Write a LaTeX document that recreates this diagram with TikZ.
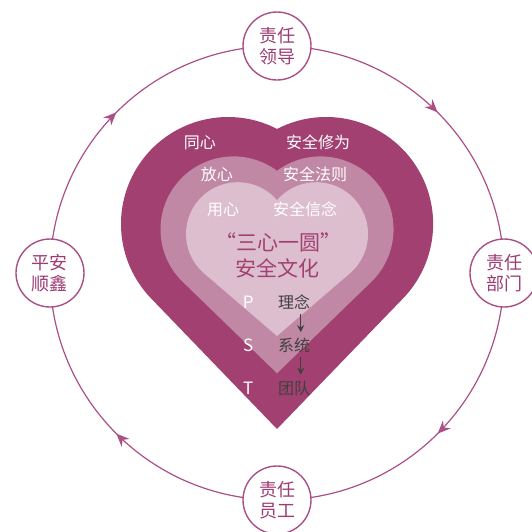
\documentclass[tikz,border=0pt]{standalone}
\usepackage{fontspec}
\setmainfont{Noto Sans CJK SC}
\usepackage{xcolor}
\usetikzlibrary{arrows.meta,decorations.markings}

\definecolor{heartdark}{RGB}{161,64,113}
\definecolor{heartmid}{RGB}{192,136,164}
\definecolor{heartlight}{RGB}{221,190,206}
\definecolor{ringcol}{RGB}{170,80,135}
\definecolor{ringtext}{RGB}{155,60,115}
\definecolor{graytext}{RGB}{64,64,64}

\pgfdeclarelayer{bg}
\pgfsetlayers{bg,main}

\tikzset{
  ring/.style={circle, draw=ringcol, line width=1.4pt, fill=white,
    minimum size=68pt, inner sep=0pt, align=center, text=ringtext,
    font=\fontsize{18}{21.5}\selectfont},
  flow/.style={draw=ringcol, color=ringcol, line width=1.2pt, postaction={decorate},
    decoration={markings, mark=at position 0.5 with {\arrow{Stealth[length=13pt,width=11pt]}}}},
  inlabel/.style={text=white, font=\fontsize{16}{19}\selectfont},
  culture/.style={text=heartdark, font=\fontsize{21}{25}\selectfont},
  pst/.style={text=white, font=\fontsize{17}{20}\selectfont},
  stage/.style={text=graytext, inner sep=1pt, font=\fontsize{16}{19}\selectfont},
  down/.style={-{Stealth[length=7pt,width=7pt]}, draw=graytext, line width=1pt,
    shorten <=3pt, shorten >=5pt}
}

\begin{document}
\begin{tikzpicture}[x=1pt,y=1pt]
            \useasboundingbox (-277,-258) rectangle (255,273);

            \fill[heartdark] (0,-156) -- ([shift={(-49,49)}]223.9:107)
              arc[start angle=223.9, end angle=62.7, radius=107]
              arc[start angle=117.3, end angle=-43.9, radius=107] -- cycle;
            \fill[heartmid] (0,-100.3) -- ([shift={(-43.5,43.6)}]225.9:73)
              arc[start angle=225.9, end angle=53.4, radius=73]
              arc[start angle=126.6, end angle=-45.9, radius=73] -- cycle;
            \fill[heartlight] (0,-63) -- ([shift={(-39.2,39)}]229.4:51.8)
              arc[start angle=229.4, end angle=40.8, radius=51.8]
              arc[start angle=139.2, end angle=-49.4, radius=51.8] -- cycle;

            \node[ring] (lead) at (0,227) {责任\\领导};
            \node[ring] (dept) at (227,0) {责任\\部门};
            \node[ring] (staff) at (0,-227) {责任\\员工};
            \node[ring] (safe) at (-227,0) {平安\\顺鑫};

            \begin{pgfonlayer}{bg}
              \draw[flow] (lead.center) to[out=0,in=90] (dept.center);
              \draw[flow] (dept.center) to[out=-90,in=0] (staff.center);
              \draw[flow] (staff.center) to[out=180,in=-90] (safe.center);
              \draw[flow] (safe.center) to[out=90,in=180] (lead.center);
            \end{pgfonlayer}

            \node[inlabel] (tongxin) at (-77,130.5) {同心};
            \node[inlabel] (xiuwei) at (41,130.5) {安全修为};
            \node[inlabel] (fangxin) at (-60,99) {放心};
            \node[inlabel] (fazhe) at (38,99) {安全法则};
            \node[inlabel] (yongxin) at (-54,63.5) {用心};
            \node[inlabel] (xinnian) at (28,63.5) {安全信念};

            \node[culture] (sanxin) at (1,31) {“三心一圆”};
            \node[culture] (wenhua) at (0,4.5) {安全文化};

            \node[pst] (P) at (-28.7,-29.7) {P};
            \node[pst] (S) at (-28.7,-72) {S};
            \node[pst] (T) at (-28.7,-115.3) {T};

            \node[stage] (linian) at (17,-29.5) {理念};
            \node[stage] (xitong) at (17,-72.7) {系统};
            \node[stage] (tuandui) at (17,-115.3) {团队};

            \draw[down] ([xshift=6.7pt]linian.south) -- ([xshift=6.7pt]xitong.north);
            \draw[down] ([xshift=6.7pt]xitong.south) -- ([xshift=6.7pt]tuandui.north);
        \end{tikzpicture}
\end{document}
